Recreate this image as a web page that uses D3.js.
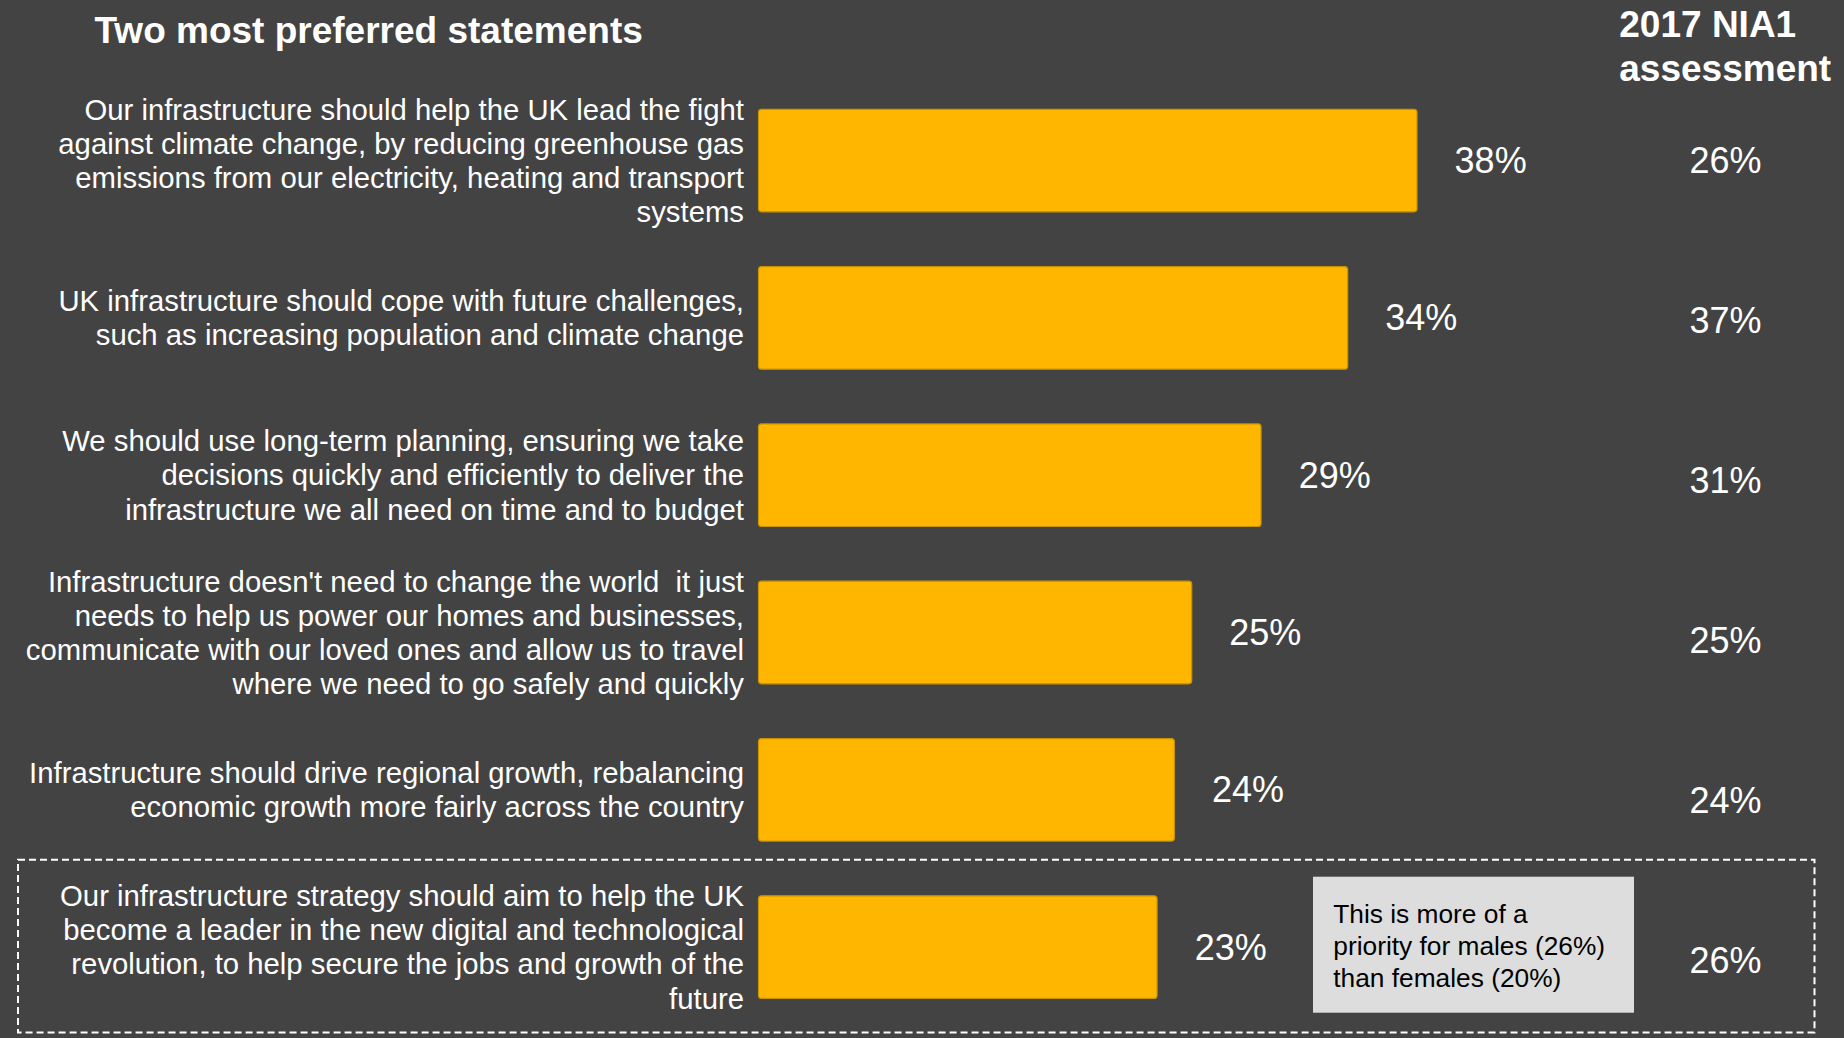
<!DOCTYPE html>
<html>
<head>
<meta charset="utf-8">
<script src="https://cdn.jsdelivr.net/npm/d3@7"></script>
<style>
  html, body { margin: 0; padding: 0; background: #434343; }
  svg { display: block; font-family: "Liberation Sans", Arial, sans-serif; }
  text { white-space: pre; }
</style>
</head>
<body>
<svg id="chart" width="1844" height="1038"></svg>
<script>
// Statements, already broken into display lines
const statements = [
  ["Our infrastructure should help the UK lead the fight",
   "against climate change, by reducing greenhouse gas",
   "emissions from our electricity, heating and transport",
   "systems"],
  ["UK infrastructure should cope with future challenges,",
   "such as increasing population and climate change"],
  ["We should use long-term planning, ensuring we take",
   "decisions quickly and efficiently to deliver the",
   "infrastructure we all need on time and to budget"],
  ["Infrastructure doesn't need to change the world  it just",
   "needs to help us power our homes and businesses,",
   "communicate with our loved ones and allow us to travel",
   "where we need to go safely and quickly"],
  ["Infrastructure should drive regional growth, rebalancing",
   "economic growth more fairly across the country"],
  ["Our infrastructure strategy should aim to help the UK",
   "become a leader in the new digital and technological",
   "revolution, to help secure the jobs and growth of the",
   "future"]
];
const shares = [38, 34, 29, 25, 24, 23];       // share choosing the statement (%)
const nia1 = [26, 37, 31, 25, 24, 26];         // 2017 NIA1 assessment (%)
const titleText = "Two most preferred statements";
const headerLines = ["2017 NIA1", "assessment"];
const noteLines = ["This is more of a", "priority for males (26%)", "than females (20%)"];

const svg = d3.select("#chart");
const ids = d3.range(statements.length);

const x = d3.scaleLinear().domain([0, 38]).range([758.5, 1417]);
const y = d3.scaleBand().domain(ids).range([109.3, 998.4]).paddingInner(0.348).paddingOuter(0);
const yRight = d3.scalePoint().domain(ids).range([160, 960]);

const labelSize = 29.3, lineGap = 34.1;

// background
svg.append("rect").attr("width", 1844).attr("height", 1038).attr("fill", "#434343");

// title and column header
svg.append("text").attr("x", 94.5).attr("y", 42.7)
  .attr("fill", "#fff").attr("font-size", 37).attr("font-weight", "bold")
  .text(titleText);
svg.append("g").selectAll("text").data(headerLines).join("text")
  .attr("x", 1619.3).attr("y", (d, i) => 36.7 + i * 44.3)
  .attr("fill", "#fff").attr("font-size", 37).attr("font-weight", "bold")
  .text(d => d);

// dashed frame around the last statement
const last = ids[ids.length - 1];
svg.append("rect")
  .attr("x", 18).attr("y", y(last) - 36)
  .attr("width", 1796.5).attr("height", y.bandwidth() + 70)
  .attr("fill", "none").attr("stroke", "#fff").attr("stroke-width", 2)
  .attr("stroke-dasharray", "7,4");

// bars
svg.append("g").selectAll("rect").data(ids).join("rect")
  .attr("x", x(0)).attr("y", i => y(i))
  .attr("width", i => x(shares[i]) - x(0)).attr("height", y.bandwidth())
  .attr("rx", 3)
  .attr("fill", "#FFB600").attr("stroke", "#c99400").attr("stroke-width", 1.2);

// value labels next to bars
svg.append("g").selectAll("text").data(ids).join("text")
  .attr("x", i => x(shares[i]) + 37.6)
  .attr("y", i => y(i) + y.bandwidth() / 2 + 12.5)
  .attr("fill", "#fff").attr("font-size", 36)
  .text(i => shares[i] + "%");

// statement labels, right aligned, centred on each bar
const lab = svg.append("g").attr("fill", "#fff").attr("font-size", labelSize).attr("text-anchor", "end");
ids.forEach(i => {
  const lines = statements[i];
  const c = y(i) + y.bandwidth() / 2;
  lab.append("g").selectAll("text").data(lines).join("text")
    .attr("x", 744)
    .attr("y", (d, k) => c + (k - (lines.length - 1) / 2) * lineGap + 10.3)
    .text(d => d);
});

// 2017 NIA1 column
svg.append("g").selectAll("text").data(ids).join("text")
  .attr("x", 1725.5).attr("y", i => yRight(i) + 13)
  .attr("text-anchor", "middle").attr("fill", "#fff").attr("font-size", 36)
  .text(i => nia1[i] + "%");

// callout box
svg.append("rect").attr("x", 1313).attr("y", 876.7).attr("width", 321).attr("height", 136)
  .attr("fill", "#dddddd");
svg.append("g").selectAll("text").data(noteLines).join("text")
  .attr("x", 1333.3).attr("y", (d, k) => 922.7 + k * 32)
  .attr("fill", "#000").attr("font-size", 26.3)
  .text(d => d);
</script>
</body>
</html>
